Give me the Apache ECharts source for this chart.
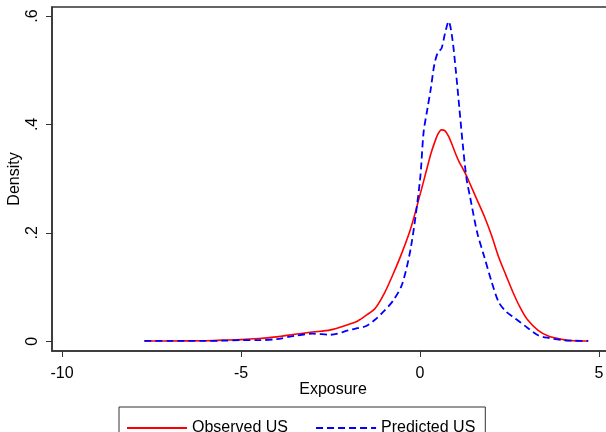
<!DOCTYPE html>
<html>
<head>
<meta charset="utf-8">
<script src="https://cdn.jsdelivr.net/npm/echarts@6/dist/echarts.min.js"></script>
<style>
  html, body { margin: 0; padding: 0; background: #fff; }
  #main { width: 606px; height: 432px; }
</style>
</head>
<body>
<div id="main"></div>
<script>
// exposure grid shared by both densities
var exposure = [-7.7, -7, -6, -5.5, -5, -4.5, -4, -3.5, -3, -2.5, -2, -1.75, -1.5, -1.25, -1,
  -0.75, -0.5, -0.25, 0, 0.1, 0.2, 0.3, 0.4, 0.5, 0.6, 0.7, 0.8, 0.9, 1.0, 1.1, 1.2, 1.3,
  1.4, 1.6, 1.8, 2.0, 2.2, 2.4, 2.6, 2.8, 3.0, 3.3, 3.6, 4.0, 4.3, 4.7];

var observedUS = [0.0005, 0.0005, 0.001, 0.002, 0.003, 0.005, 0.008, 0.013, 0.017, 0.021, 0.031, 0.037, 0.048, 0.061, 0.088,
  0.124, 0.164, 0.21, 0.27, 0.295, 0.32, 0.345, 0.365, 0.382, 0.39, 0.388, 0.378, 0.362, 0.345, 0.33, 0.318, 0.305,
  0.29, 0.26, 0.23, 0.195, 0.155, 0.122, 0.09, 0.062, 0.04, 0.02, 0.009, 0.003, 0.001, 0.0005];

var predictedUS = [0.0005, 0.0005, 0.0005, 0.001, 0.002, 0.002, 0.004, 0.01, 0.014, 0.012, 0.02, 0.024, 0.028, 0.04, 0.056,
  0.075, 0.105, 0.175, 0.297, 0.385, 0.426, 0.465, 0.51, 0.533, 0.54, 0.568, 0.59, 0.56, 0.5, 0.43, 0.36, 0.3,
  0.266, 0.2, 0.155, 0.11, 0.072, 0.055, 0.045, 0.035, 0.025, 0.011, 0.006, 0.002, 0.001, 0.0005];

var xTicks = [-10, -5, 0, 5];
var yTicks = [0, 0.2, 0.4, 0.6];

function pairs(xs, ys) {
  return xs.map(function(x, i) { return [x, ys[i]]; });
}

var font = "Liberation Sans, Arial, sans-serif";
var frame = "#333";

var chart = echarts.init(document.getElementById("main"));
chart.setOption({
  animation: false,
  backgroundColor: "#fff",
  grid: {
    left: 52, top: 7, right: -8, bottom: 81,
    // fixed plot box, no automatic shrinking for labels
    outerBoundsMode: "none",
    containLabel: false,
    show: true, borderColor: frame, borderWidth: 1.5, backgroundColor: "#fff"
  },
  legend: {
    left: 119, top: 407,
    orient: "horizontal",
    borderColor: frame, borderWidth: 1,
    padding: [13, 10, 10, 7],
    itemWidth: 60, itemHeight: 14, itemGap: 27,
    // hide the marker dot, keep only the line sample
    itemStyle: { opacity: 0 },
    textStyle: { fontFamily: font, fontSize: 16, color: "#000" },
    data: ["Observed US", "Predicted US"]
  },
  xAxis: {
    type: "value",
    min: -10.28, max: 5.42,
    name: "Exposure",
    nameLocation: "middle",
    nameGap: 31,
    nameMoveOverlap: false,
    nameTextStyle: { fontFamily: font, fontSize: 16, color: "#000" },
    splitLine: { show: false },
    axisLine: { onZero: false, lineStyle: { color: frame, width: 1.5 } },
    axisTick: { customValues: xTicks, length: 6, lineStyle: { color: frame } },
    axisLabel: {
      customValues: xTicks, margin: 15,
      fontFamily: font, fontSize: 16, color: "#000",
      formatter: function(v) { return String(v); }
    }
  },
  yAxis: {
    type: "value",
    min: -0.018, max: 0.6166,
    name: "Density",
    nameLocation: "middle",
    nameGap: 29,
    nameMoveOverlap: false,
    nameRotate: 90,
    nameTextStyle: { fontFamily: font, fontSize: 16, color: "#000" },
    splitLine: { show: false },
    axisLine: { show: true, onZero: false, lineStyle: { color: frame, width: 1.5 } },
    axisTick: { show: true, customValues: yTicks, length: 6, lineStyle: { color: frame } },
    axisLabel: {
      customValues: yTicks, margin: 11, rotate: 90,
      fontFamily: font, fontSize: 16, color: "#000",
      formatter: function(v) {
        return v === 0 ? "0" : String(Math.round(v * 10) / 10).replace(/^0/, "");
      }
    }
  },
  series: [
    {
      name: "Observed US",
      type: "line",
      data: pairs(exposure, observedUS),
      symbol: "none",
      smooth: 0.3,
      color: "#ff0000",
      lineStyle: { color: "#ff0000", width: 1.6 }
    },
    {
      name: "Predicted US",
      type: "line",
      data: pairs(exposure, predictedUS),
      symbol: "none",
      smooth: 0.3,
      color: "#0000ff",
      lineStyle: { color: "#0000ff", width: 1.8, type: [7, 4] }
    }
  ]
});
</script>
</body>
</html>
